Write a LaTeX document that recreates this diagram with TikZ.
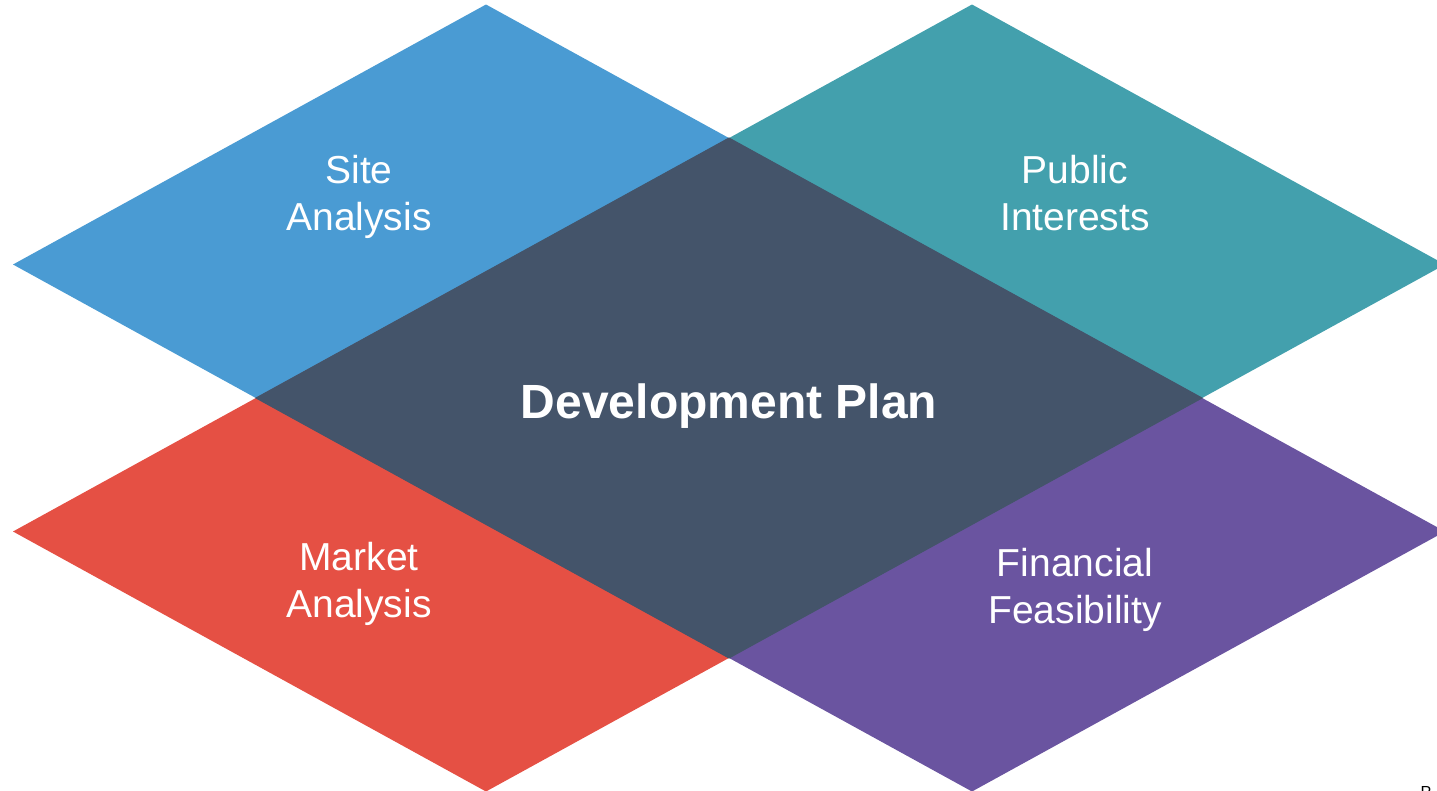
\documentclass[tikz,border=0pt]{standalone}
\usepackage{fontspec}
\setmainfont{Liberation Sans}
\usepackage{xcolor}
\usetikzlibrary{shapes.geometric, positioning}

\definecolor{siteblue}{HTML}{4A9BD3}
\definecolor{publicteal}{HTML}{43A0AD}
\definecolor{marketred}{HTML}{E55044}
\definecolor{financeviolet}{HTML}{6A54A0}
\definecolor{planslate}{HTML}{44546A}

\begin{document}
\begin{tikzpicture}[x=1pt, y=-1pt]
\tikzstyle{rhomb} = [diamond, minimum width=946pt, minimum height=520pt, inner sep=0pt, outer sep=0pt]
\tikzstyle{areatext} = [text=white, align=center, inner sep=0pt, font=\fontsize{39}{47}\selectfont]
\tikzstyle{titletext} = [text=white, inner sep=0pt, anchor=base, font=\fontsize{48}{56}\selectfont\bfseries]

\useasboundingbox (0,0) rectangle (1437,790);
\clip (0,0) rectangle (1437,790);

% four corner areas, the plan sits on top (thin stroke hides the seams)
\node (site) [rhomb, fill=siteblue] at (486,264.5) {};
\node (public) [rhomb, fill=publicteal] at (972,264.5) {};
\node (market) [rhomb, fill=marketred] at (486,531.5) {};
\node (finance) [rhomb, fill=financeviolet] at (972,531.5) {};
\node (plan) [rhomb, fill=planslate, draw=planslate, line width=1pt] at (729,398) {};

\node (sitetxt) [areatext] at (359,198) {Site\strut\\Analysis\strut};
\node (publictxt) [areatext] at (1075,198) {Public\strut\\Interests\strut};
\node (markettxt) [areatext] at (359,585) {Market\strut\\Analysis\strut};
\node (financetxt) [areatext] at (1075,591) {Financial\strut\\Feasibility\strut};
\node (plantxt) [titletext] at (729,418) {Development Plan};

% page mark cut off at the corner
\node (pagemark) [inner sep=0pt, font=\fontsize{16}{18}\selectfont, anchor=north] at (1426,786) {P};
\end{tikzpicture}
\end{document}
